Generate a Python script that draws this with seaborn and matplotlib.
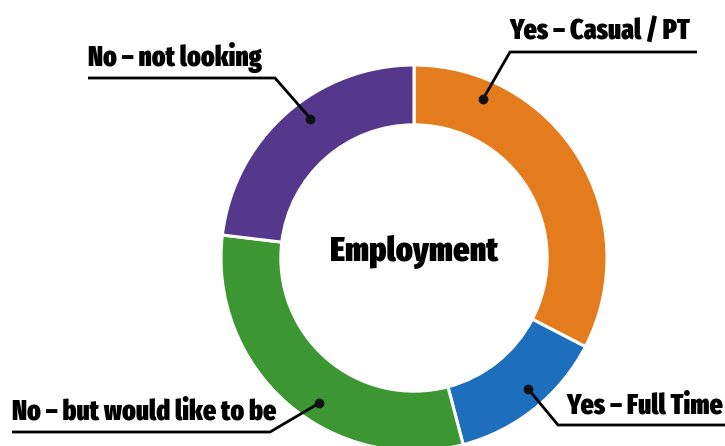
import matplotlib
matplotlib.use("Agg")
import matplotlib.pyplot as plt
from matplotlib import font_manager
import numpy as np
import seaborn as sns

# Employment status shares (percent), clockwise from 12 o'clock
categories = ["Yes – Casual / PT", "Yes – Full Time", "No – but would like to be", "No – not looking"]
shares = [32.6, 13.3, 31.0, 23.1]
colors = ["#E47C1E", "#1E6EBE", "#3C9632", "#55378C"]
center_title = "Employment"

sns.set_theme(style="white")
palette = sns.color_palette(colors)


def heavy_condensed_font():
    """Pick the heaviest upright face of a condensed sans family."""
    for fam in ["Fira Sans Extra Condensed", "Fira Sans Condensed",
                "Barlow Condensed", "Roboto Condensed"]:
        faces = [f for f in font_manager.fontManager.ttflist
                 if f.name == fam and f.style == "normal"]
        if faces:
            best = max(faces, key=lambda f: int(f.weight) if str(f.weight).isdigit() else 400)
            return font_manager.FontProperties(fname=best.fname)
    return font_manager.FontProperties(family="DejaVu Sans", weight="bold")


label_font = heavy_condensed_font()

W, H = 725, 446
CX, CY, R = 414, 258, 193  # pie centre and radius in pixels


def px(x, y):
    """Convert pixel position (from top-left) to axes data units."""
    return (x - CX) / R, (CY - y) / R


fig = plt.figure(figsize=(W / 100, H / 100), dpi=100)
ax = fig.add_axes([0, 0, 1, 1])

wedges, _ = ax.pie(
    shares,
    colors=palette,
    startangle=90,
    counterclock=False,
    radius=1.0,
    wedgeprops=dict(width=0.31, edgecolor="white", linewidth=2.2),
)
ax.set_xlim(-CX / R, (W - CX) / R)
ax.set_ylim(-(H - CY) / R, CY / R)
ax.set_aspect("equal")
ax.axis("off")

ax.text(0, px(0, 252)[1], center_title, ha="center", va="center",
        fontproperties=label_font, fontsize=25, color="black")

# leader layout: fraction along wedge (clockwise), elbow pixel, line end pixel, text left pixel
leaders = [
    (0.20, (510, 52), (697, 52), 510),
    (0.45, (558, 425), (725, 425), 567),
    (0.43, (270, 432), (12, 432), 12),
    (0.56, (275, 78), (88, 78), 88),
]

for wedge, label, (frac, elbow, end, text_x) in zip(wedges, categories, leaders):
    ang = np.deg2rad(wedge.theta2 - frac * (wedge.theta2 - wedge.theta1))
    dot = (0.9 * np.cos(ang), 0.9 * np.sin(ang))
    ex, ey = px(*elbow)
    lx, ly = px(*end)
    ax.plot([dot[0], ex, lx], [dot[1], ey, ly], color="black", lw=2.0,
            solid_capstyle="butt", zorder=3)
    ax.plot(dot[0], dot[1], "o", color="#111111", ms=6, zorder=4)
    ax.text(px(text_x, 0)[0], ey + 12 / R, label, ha="left", va="baseline",
            fontproperties=label_font, fontsize=20, color="black")

fig.savefig("out.png", dpi=100, facecolor="white")
